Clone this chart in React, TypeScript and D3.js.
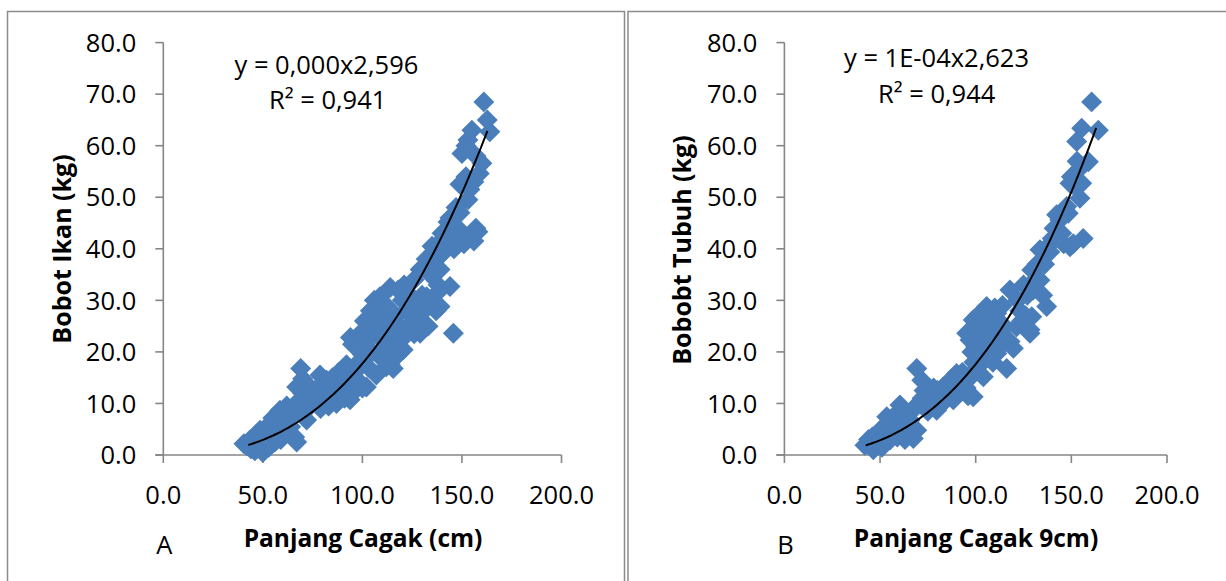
import React from 'react';
import * as d3 from 'd3';

// ---------- data ----------
const xTicks = [0, 50, 100, 150, 200];
const yTicks = [0, 10, 20, 30, 40, 50, 60, 70, 80];

const panelAPoints: [number, number][] = [
  [42, 1.8], [43.5, 2.9], [40.5, 2.2], [44, 1.2], [45, 2.5], [46, 0.8], [47, 3.5], [48, 1.5], [48.6, 4.8], [50, 2.2],
  [50, 0.5], [51, 3.5], [52, 5.5], [53, 1.5], [54, 4], [55, 7.2], [56, 2.5], [57, 7.5], [58, 5], [58.6, 8.7], [59, 3],
  [60, 8.5], [60, 6], [61, 4], [62, 9.5], [63, 7], [64, 5.5], [65, 9], [66, 3.5], [67, 2.5], [67, 13.2], [68, 10.5],
  [69, 16.8], [70, 14.8], [70, 12], [70, 8], [72, 6.8], [72, 11], [73, 9.5], [74, 13], [75, 10], [76, 12.5], [78.7, 15.5],
  [78, 11], [79, 9], [80, 13.5], [80, 10.5], [81, 12], [82, 14.5], [83, 9.5], [84, 11.5], [85, 15], [86, 13], [87, 10],
  [88.7, 13.2], [88, 16], [90, 14], [91, 11], [92, 15.8], [92, 17.5], [93, 15.5], [93.8, 10.7], [94, 13], [94, 22.8],
  [95, 21.5], [95, 12], [96, 16], [97, 22.3], [98, 18], [99, 14], [100, 24], [100, 19.5], [100, 13], [102, 13.2],
  [101, 26], [102, 22], [103, 17], [104, 28], [104, 24.5], [105, 20], [106, 30], [106, 26], [107, 15.5], [108, 23],
  [108.8, 30.7], [108, 28.5], [109, 19], [110, 27], [110, 25], [110.5, 19.7], [111, 21], [112, 29], [112, 17.1], [112, 23],
  [113, 26], [114, 32.5], [114, 17.5], [115, 24.5], [115.5, 16.8], [116, 21], [117, 27], [118, 32], [118, 19.5], [119, 25],
  [120, 30], [120, 22.5], [120.5, 20.4], [121, 33], [122, 28], [123, 25], [124, 31], [125, 27], [126, 34], [126, 23.5],
  [127, 29.5], [128, 26], [129, 36], [129, 23.6], [130, 31], [131, 28], [132, 38], [132.3, 30.7], [133, 25], [134, 35],
  [135, 40.5], [135, 30], [136, 37.5], [137, 28], [138, 41], [138, 33], [139, 36], [139, 28.8], [139, 32], [140, 43],
  [140, 39], [141, 40], [143, 45.2], [143, 42], [144, 46], [144, 32.7], [145.7, 23.6], [145, 41], [146, 40], [147, 48],
  [148, 44], [148, 41.5], [149, 52.5], [149, 47], [150, 43], [150, 58.5], [151, 41], [152, 54], [152, 60], [153, 49.5],
  [153, 61.1], [154, 51.5], [155, 63], [155, 42.5], [156, 41.5], [156, 53], [157, 44], [157, 58], [158, 43.3],
  [158.7, 54.6], [160, 56.6], [161, 68.5], [162.7, 65], [164, 62.7],
];

const panelBPoints: [number, number][] = [
  [42.1, 1.9], [44, 3], [46.5, 1], [48, 2.5], [50, 4.8], [51, 1.5], [53.5, 7.4], [55.2, 2.9], [56, 5.5], [58, 7.8],
  [60.4, 9.7], [60.4, 4.8], [62, 6.5], [63, 3], [65.7, 6.8], [67.4, 3.2], [68, 9], [69.2, 16.8], [69.2, 4.8], [71.8, 14.5],
  [72, 11], [74.4, 9.4], [76, 12], [77.8, 11.3], [79.6, 8.7], [80, 12.5], [83, 13.2], [84, 10.5], [86.6, 14.5], [88.3, 10.7],
  [90, 15.8], [91, 12.5], [93, 16], [95, 13], [95.3, 23.6], [97, 22.3], [98, 20], [98.7, 11.3], [98.7, 26.2], [100, 24],
  [101, 17], [102, 25.5], [104, 15.2], [104, 22], [105.7, 28.8], [106, 24], [107.5, 21], [108, 26.5], [109, 18],
  [111, 27.5], [111, 19.7], [113, 24], [114, 29], [116.2, 16.8], [117.9, 32], [119.7, 20.7], [121.4, 24.9], [123, 28],
  [125, 33], [126, 27], [128.4, 24.3], [128.4, 23.6], [129.3, 35.9], [129.3, 26.8], [130.1, 32], [132, 37], [133.6, 39.8],
  [133.6, 33.9], [135, 31], [137.1, 28.8], [138.8, 39.4], [140, 42], [142.3, 46.6], [142.3, 42.3], [144, 45.6], [146, 41],
  [147.6, 48.2], [148.4, 46.9], [149.3, 52.7], [149.3, 40.4], [151, 52.4], [152.8, 60.8], [154.5, 55.6], [154.5, 49.8],
  [155.4, 63.4], [155.4, 52.7], [156.2, 42], [158.9, 56.9], [160.6, 68.5], [164.1, 63],
  [46, 3.5], [52, 3], [57, 5], [59, 3.5], [61, 8], [64, 8], [66, 5], [70, 10], [73, 12.5], [75, 8.5], [78, 13],
  [81, 10], [82, 12], [85, 13], [87, 12], [89, 13.5], [92, 14], [94, 15.5], [96, 11.5], [97, 15], [99, 18], [100, 21],
  [101, 27], [102, 20], [103, 23], [104, 27], [105, 25], [106, 19], [107, 27.5], [108, 23], [109, 25], [110, 28.5],
  [110, 22], [112, 26], [113, 21], [115, 25], [118, 22], [122, 30], [124, 26], [127, 31], [131, 34], [136, 37],
  [139, 41], [141, 44], [145, 43], [150, 54], [151, 41], [153, 57],
];

// power trendline coefficients y = a * x^b, and x-range of the drawn trendline
const fitA = { a: 1.14e-4, b: 2.596, from: 42.7, to: 162.8 };
const fitB = { a: 1.0e-4, b: 2.623, from: 42.5, to: 163 };

const labelsA = { eq: 'y = 0,000x2,596', r2: 'R² = 0,941', xTitle: 'Panjang Cagak (cm)', yTitle: 'Bobot Ikan (kg)', letter: 'A' };
const labelsB = { eq: 'y = 1E-04x2,623', r2: 'R² = 0,944', xTitle: 'Panjang Cagak 9cm)', yTitle: 'Bobobt Tubuh (kg)', letter: 'B' };

// ---------- drawing ----------
const FONT = "'Open Sans', sans-serif";
const AXIS = '#868686';
const BLUE = '#4a7ebb';
const fmt = d3.format('.1f');
const diamond = d3.symbol(d3.symbolSquare, 220)() as string;

type PanelProps = {
  points: [number, number][];
  fit: { a: number; b: number; from: number; to: number };
  labels: { eq: string; r2: string; xTitle: string; yTitle: string; letter: string };
  xRange: [number, number];
  eqPos: [number, number];
  r2Pos: [number, number];
  yTitlePos: [number, number];
  xTitleX: number;
};

function Panel({ points, fit, labels, xRange, eqPos, r2Pos, yTitlePos, xTitleX }: PanelProps) {
  const x = d3.scaleLinear().domain([0, 200]).range(xRange);
  const y = d3.scaleLinear().domain([0, 80]).range([455, 42.6]);
  const x0 = xRange[0];
  const curvePts = d3.range(fit.from, fit.to + 0.001, (fit.to - fit.from) / 120).map((v) => [v, fit.a * Math.pow(v, fit.b)] as [number, number]);
  const line = d3.line<[number, number]>().x((d) => x(d[0])).y((d) => y(d[1])).curve(d3.curveMonotoneX);
  return (
    <g>
      <line x1={x0} x2={x0} y1={y(80)} y2={y(0)} stroke={AXIS} strokeWidth={1.6} />
      <line x1={x0 - 8} x2={x(200)} y1={y(0)} y2={y(0)} stroke={AXIS} strokeWidth={1.6} />
      {yTicks.map((t) => (
        <g key={'y' + t}>
          <line x1={x0 - 8} x2={x0} y1={y(t)} y2={y(t)} stroke={AXIS} strokeWidth={1.6} />
          <text x={x0 - 27} y={y(t) + 9.2} textAnchor="end" fontFamily={FONT} fontSize={25.5} fill="#000">{fmt(t)}</text>
        </g>
      ))}
      {xTicks.map((t) => (
        <g key={'x' + t}>
          <line x1={x(t)} x2={x(t)} y1={y(0)} y2={y(0) + 8} stroke={AXIS} strokeWidth={1.6} />
          <text x={x(t)} y={503.8} textAnchor="middle" fontFamily={FONT} fontSize={25.5} fill="#000">{fmt(t)}</text>
        </g>
      ))}
      {points.map((p, i) => (
        <path key={i} d={diamond} fill={BLUE} transform={`translate(${x(p[0])},${y(p[1])}) rotate(45)`} />
      ))}
      <path d={line(curvePts) as string} fill="none" stroke="#000" strokeWidth={2} />
      <text x={eqPos[0]} y={eqPos[1]} fontFamily={FONT} fontSize={25.5} fill="#000">{labels.eq}</text>
      <text x={r2Pos[0]} y={r2Pos[1]} fontFamily={FONT} fontSize={25.5} fill="#000">{labels.r2}</text>
      <text transform={`translate(${yTitlePos[0]},${yTitlePos[1]}) rotate(-90)`} textAnchor="middle" fontFamily={FONT} fontWeight="bold" fontSize={25} fill="#000">{labels.yTitle}</text>
      <text x={xTitleX} y={546.5} textAnchor="middle" fontFamily={FONT} fontWeight="bold" fontSize={24.5} fill="#000">{labels.xTitle}</text>
      <text x={x0 + 1} y={553.5} textAnchor="middle" fontFamily={FONT} fontSize={25.5} fill="#000">{labels.letter}</text>
    </g>
  );
}

export default function App() {
  return (
    <svg width={1226} height={581} style={{ position: 'absolute', left: 0, top: 0, background: '#fff' }}>
      <rect width={1226} height={581} fill="#fff" />
      <path d="M7.5,600V11.5H624.5V600" fill="none" stroke="#8c8c8c" strokeWidth={1.5} />
      <path d="M628,600V11.5H1240" fill="none" stroke="#8c8c8c" strokeWidth={1.5} />
      <Panel points={panelAPoints} fit={fitA} labels={labelsA} xRange={[163.3, 561.5]} eqPos={[234.5, 74]} r2Pos={[269, 109]} yTitlePos={[70.8, 249]} xTitleX={363} />
      <Panel points={panelBPoints} fit={fitB} labels={labelsB} xRange={[784.4, 1167]} eqPos={[844, 67.4]} r2Pos={[878, 103.4]} yTitlePos={[691, 250]} xTitleX={976} />
    </svg>
  );
}
